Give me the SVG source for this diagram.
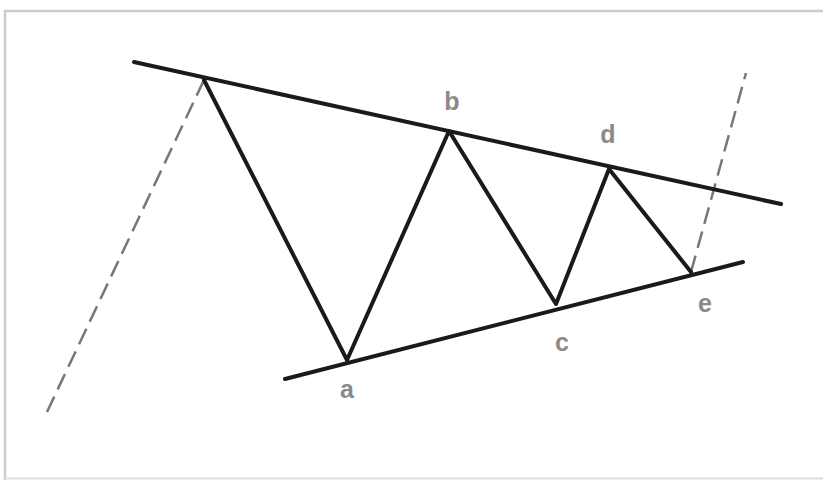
<svg xmlns="http://www.w3.org/2000/svg" width="823" height="481" viewBox="0 0 823 481">
<style>
.solid{stroke:#1a1a1a;stroke-width:4;stroke-linecap:round;stroke-linejoin:round;fill:none}
.dash{stroke:#777;stroke-width:2.5;stroke-dasharray:17 8;fill:none}
.lbl{font-family:"Liberation Sans",Arial,sans-serif;font-size:25px;font-weight:bold;fill:#8a8a8a;text-anchor:middle}
</style>
<rect width="823" height="481" fill="#fff"/>
<path d="M5 480 V11 H823" fill="none" stroke="#ccc" stroke-width="2.5"/>
<line x1="5" y1="478.5" x2="823" y2="478.5" stroke="#ddd" stroke-width="2"/>
<g id="connectors">
<line class="dash" x1="47" y1="412" x2="204" y2="80"/>
<line class="dash" x1="691" y1="272" x2="746" y2="73"/>
<line class="solid" x1="134" y1="62" x2="781" y2="204"/>
<line class="solid" x1="285" y1="379" x2="743" y2="262"/>
<polyline class="solid" points="204,80 347,360 449,131 556,304 609,169 691,272"/>
</g>
<g id="a"><text class="lbl" x="347" y="398">a</text></g>
<g id="b"><text class="lbl" x="452" y="110">b</text></g>
<g id="c"><text class="lbl" x="562" y="351">c</text></g>
<g id="d"><text class="lbl" x="608" y="143">d</text></g>
<g id="e"><text class="lbl" x="705" y="312">e</text></g>
</svg>
